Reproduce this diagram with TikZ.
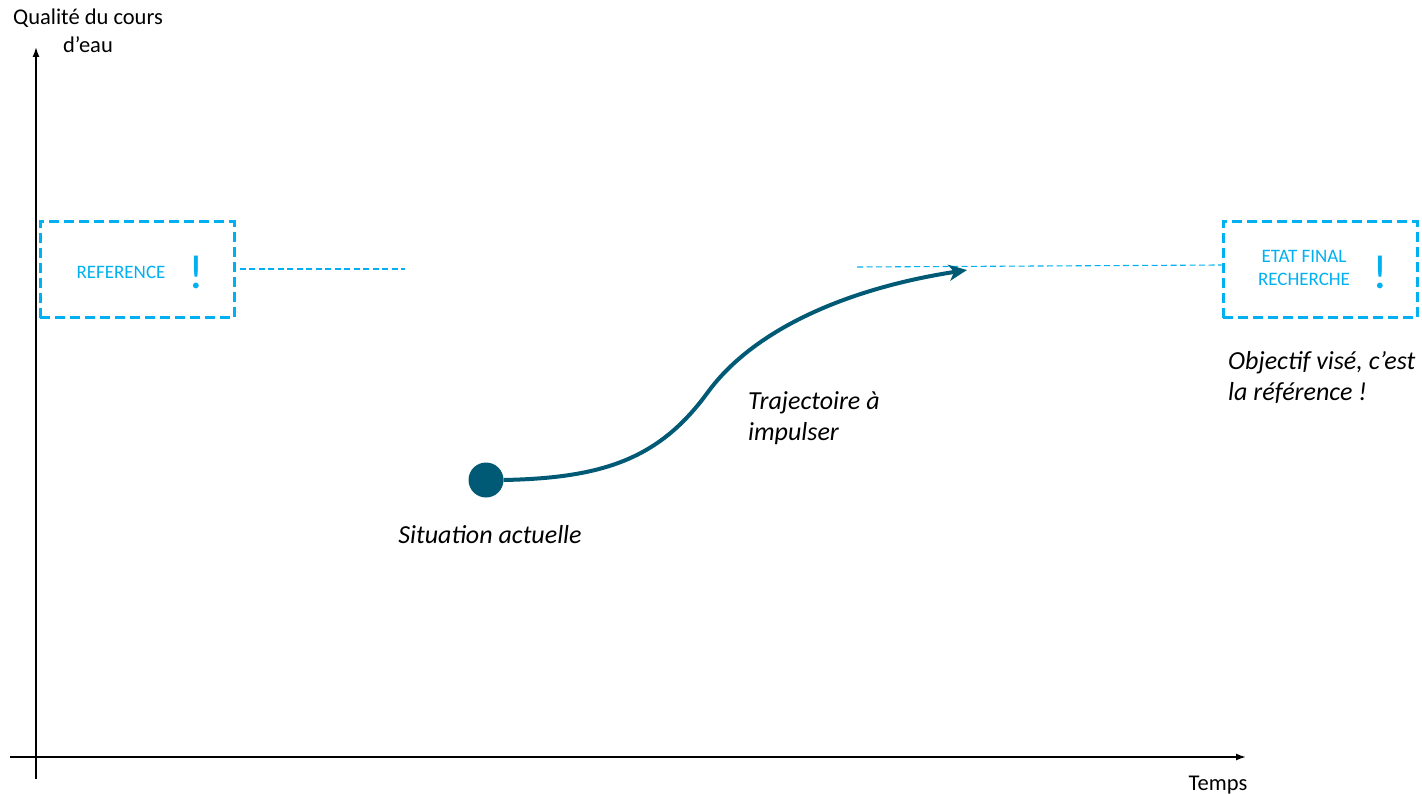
\documentclass[tikz,border=0pt]{standalone}
\usepackage{fontspec}
\setmainfont{Carlito}
\usetikzlibrary{arrows.meta}
\definecolor{refcyan}{RGB}{0,176,240}
\definecolor{trajblue}{RGB}{0,90,117}

\begin{document}
\begin{tikzpicture}[
    x=1pt, y=-1pt,
    axis/.style={line width=1.5pt, -{Latex[length=10pt,width=7pt]}},
    refbox/.style={rectangle, draw=refcyan, line width=3pt, dash pattern=on 10pt off 5pt, minimum width=194pt, minimum height=96pt},
    guide/.style={draw=refcyan, line width=1.1pt, dash pattern=on 6pt off 3.5pt},
    boxtext/.style={text=refcyan, font=\fontsize{19}{23}\selectfont, align=center, inner sep=0pt},
    bang/.style={text=refcyan, font=\fontsize{48}{48}\selectfont, inner sep=0pt},
    axislabel/.style={font=\fontsize{22.5}{28}\selectfont, align=center, inner sep=0pt},
    note/.style={font=\fontsize{26}{31}\selectfont\itshape, align=left, inner sep=0pt},
    traj/.style={draw=trajblue, line width=4pt, -{Stealth[length=18pt,width=16pt,inset=5pt]}}
]
    \useasboundingbox (0,0) rectangle (1422,794);

    \coordinate (xstart) at (10,757);
    \coordinate (xend) at (1246,757);
    \coordinate (ystart) at (36,779);
    \coordinate (yend) at (36,47);
    \draw[axis] (xstart) -- (xend);
    \draw[axis] (ystart) -- (yend);

    \node[axislabel] (quality) at (88,31) {Qualité du cours\\d’eau};
    \node[axislabel] (time) at (1218,785) {Temps};

    \node[refbox] (reference) at (137,270) {};
    \node[boxtext] (reftext) at (121,272) {REFERENCE};
    \node[bang] (refbang) at (196,272) {!};

    \node[refbox] (final) at (1320,270) {};
    \node[boxtext] (finaltext) at (1304,268) {ETAT FINAL\\RECHERCHE};
    \node[bang] (finalbang) at (1380,272) {!};

    \coordinate (refguide) at (405,269);
    \coordinate (finalguide) at (857,267);
    \draw[guide] (reference.east) ++(4,-1) -- (refguide);
    \draw[guide] (finalguide) -- (final.west |- 0,265);

    \node[circle, fill=trajblue, minimum size=35pt, inner sep=0pt] (today) at (486,480) {};
    \coordinate (target) at (967,270);
    \draw[traj] (today.east) .. controls (605,478) and (660,458) .. (708,392)
        .. controls (755,328) and (850,288) .. (target);

    \node[note] (todaytext) at (490,535) {Situation actuelle};
    \node[note, anchor=west] (trajtext) at (748,418) {Trajectoire à\\impulser};
    \node[note, anchor=west] (goaltext) at (1228,377) {Objectif visé, c’est\\la référence !};
\end{tikzpicture}
\end{document}
